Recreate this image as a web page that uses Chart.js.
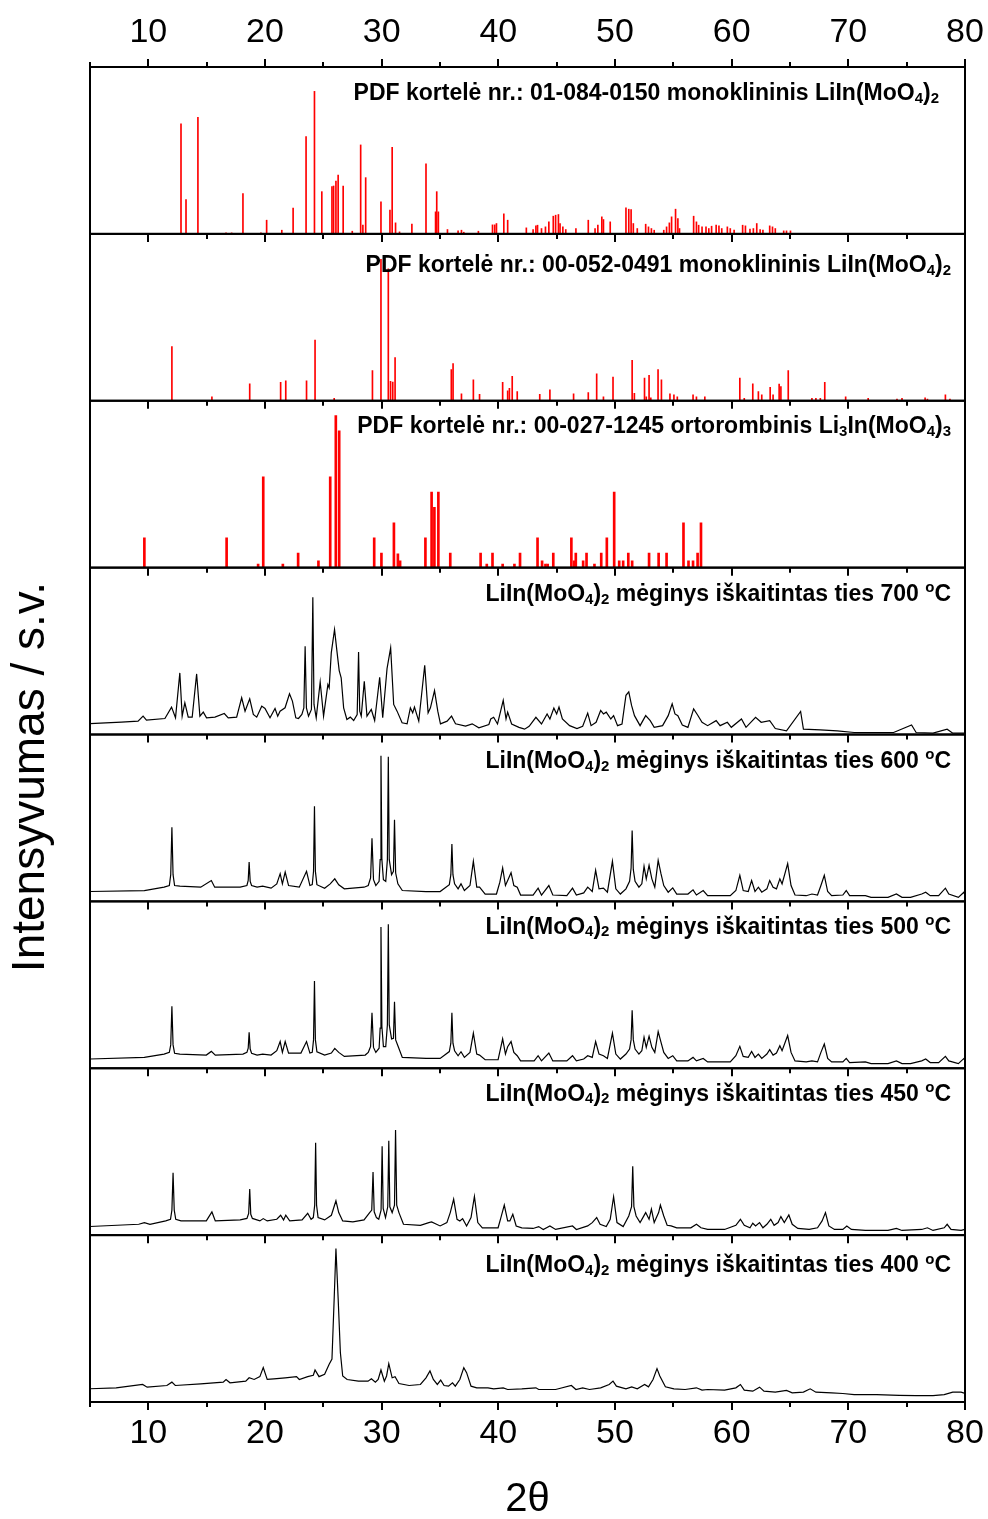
<!DOCTYPE html>
<html><head><meta charset="utf-8">
<script src="https://cdn.jsdelivr.net/npm/chart.js@4.4.1/dist/chart.umd.min.js"></script>
<style>html,body{margin:0;padding:0;background:#fff}#wrap{position:relative;width:988px;height:1519px}</style>
</head><body><div id="wrap"><canvas id="c" width="988" height="1519"></canvas></div>
<script>
// ---------- DATA ----------
const xMajorTicks = [10, 20, 30, 40, 50, 60, 70, 80];
const xMinorTicks = [5, 15, 25, 35, 45, 55, 65, 75];

// PDF 01-084-0150 (2θ, relative intensity %)
const pdf01_084_0150 = [[12.80,65.9],[13.23,20.6],[14.25,69.9],[16.66,0.6],[17.14,0.6],[18.11,24.2],[19.65,0.6],[20.14,8.2],[21.44,2.2],[22.41,15.4],[23.52,58.3],[24.24,85.4],[24.87,25.3],[25.74,28.3],[25.88,28.7],[26.08,31.7],[26.27,35.3],[26.70,28.7],[27.48,1.6],[28.20,53.3],[28.39,5.2],[28.63,33.7],[29.94,19.2],[30.71,14.2],[30.90,51.9],[31.19,6.6],[31.53,1.2],[32.59,5.8],[33.80,41.9],[34.62,13.2],[34.72,25.3],[34.86,13.2],[35.64,2.6],[36.55,1.8],[36.84,2.2],[37.04,1.0],[38.29,1.6],[39.50,5.4],[39.69,5.4],[39.84,6.2],[40.47,12.0],[40.80,8.2],[42.40,3.6],[42.98,2.6],[43.22,4.8],[43.36,5.2],[43.70,3.2],[44.04,4.2],[44.33,7.2],[44.71,10.6],[44.91,11.2],[45.15,11.6],[45.29,6.2],[45.53,4.2],[45.78,2.6],[46.65,3.2],[47.71,8.2],[48.29,3.2],[48.53,5.2],[48.87,10.2],[49.01,8.6],[49.59,7.2],[50.94,15.6],[51.18,14.8],[51.38,14.6],[51.57,6.2],[51.91,3.2],[52.63,5.8],[52.87,4.2],[53.12,3.2],[53.36,2.2],[54.18,2.2],[54.42,4.2],[54.66,6.6],[54.85,10.2],[55.19,14.8],[55.39,9.2],[55.53,3.2],[56.74,10.6],[56.98,7.2],[57.17,5.2],[57.46,4.2],[57.80,4.2],[58.04,3.2],[58.28,4.6],[58.67,5.2],[58.91,4.8],[59.15,3.2],[59.63,4.2],[59.88,3.2],[60.21,2.2],[60.94,5.2],[61.18,4.8],[61.57,2.8],[61.86,3.2],[62.15,6.2],[62.44,2.6],[62.68,2.2],[63.26,4.8],[63.50,4.2],[63.74,3.2],[64.46,1.8],[64.70,1.8],[65.04,1.8]];

// PDF 00-052-0491
const pdf00_052_0491 = [[12.02,32.5],[15.45,2.4],[18.69,10.2],[21.34,11.0],[21.78,12.0],[23.56,12.0],[24.29,36.4],[25.93,1.4],[29.21,18.1],[29.94,84.8],[30.57,79.1],[30.76,11.6],[30.95,11.2],[31.15,25.8],[35.97,18.7],[36.12,22.2],[36.84,4.1],[37.86,12.6],[38.39,3.9],[40.37,11.0],[40.80,5.9],[40.95,7.5],[41.19,14.6],[41.62,5.5],[43.55,3.9],[44.42,6.5],[46.45,4.1],[47.71,4.9],[48.43,16.1],[49.01,2.4],[49.83,14.2],[51.47,24.2],[51.66,4.5],[52.53,13.6],[52.68,2.4],[52.92,15.2],[53.07,1.8],[53.69,18.7],[53.98,12.6],[54.71,4.1],[55.05,3.5],[55.34,2.4],[56.69,3.5],[56.98,2.4],[57.70,2.4],[60.70,13.6],[61.08,1.4],[61.81,10.2],[62.29,5.5],[62.58,3.5],[63.30,8.1],[63.55,3.5],[64.07,10.0],[64.22,8.5],[64.85,18.1],[66.88,1.4],[67.22,1.4],[67.60,1.4],[67.98,11.0],[69.77,2.4],[71.70,1.4],[74.17,1.0],[74.60,1.4],[76.58,1.8],[76.78,1.0],[78.32,3.5],[78.71,1.0]];

// PDF 00-027-1245
const pdf00_027_1245 = [[9.66,17.9],[16.71,17.9],[19.41,2.1],[19.85,54.4],[21.53,2.1],[22.84,8.7],[24.58,4.1],[25.59,54.4],[26.07,91.1],[26.36,81.9],[29.36,17.9],[29.98,8.7],[31.05,26.8],[31.39,8.2],[31.58,4.1],[33.75,17.9],[34.28,45.2],[34.52,36.1],[34.86,45.2],[35.88,8.7],[38.48,8.7],[39.01,2.1],[39.50,8.7],[40.37,2.1],[41.38,2.1],[41.86,8.7],[43.36,17.9],[43.75,4.1],[44.04,2.1],[44.23,2.1],[44.71,8.7],[46.26,17.9],[46.50,4.1],[46.64,8.7],[47.27,4.1],[47.56,8.7],[48.24,2.1],[48.82,8.7],[49.30,17.9],[49.93,45.2],[50.36,4.1],[50.70,4.1],[51.14,8.7],[51.47,4.1],[52.92,8.7],[53.74,8.7],[54.42,8.7],[55.87,26.8],[56.30,4.1],[56.69,4.1],[57.08,8.7],[57.37,26.8]];

// Measured patterns (2θ, intensity, a.u.)
const sample700 = [[4.83,6.4],[7.69,7.4],[9.12,8.0],[9.55,11.0],[9.84,8.6],[11.42,9.6],[11.99,16.4],[12.33,10.0],[12.70,36.9],[12.90,11.0],[13.13,19.0],[13.42,10.4],[13.76,10.4],[14.14,36.3],[14.42,11.0],[14.71,13.4],[14.99,10.0],[15.71,10.4],[16.51,12.6],[16.85,10.0],[17.57,10.4],[18.00,22.0],[18.29,14.0],[18.69,21.4],[19.00,12.0],[19.29,10.4],[19.72,17.0],[20.00,15.6],[20.43,10.0],[20.86,15.6],[21.09,11.0],[21.29,14.0],[21.72,16.0],[22.10,24.4],[22.35,20.0],[22.64,10.0],[22.87,9.6],[23.16,12.0],[23.33,16.0],[23.44,52.9],[23.55,16.0],[23.73,11.0],[23.98,15.0],[24.10,82.2],[24.20,18.0],[24.39,10.0],[24.73,31.5],[25.02,11.0],[25.39,29.9],[25.50,28.0],[25.68,48.9],[25.96,62.9],[26.16,50.3],[26.36,38.3],[26.53,34.0],[26.74,16.0],[27.02,9.0],[27.31,10.4],[27.60,8.4],[27.90,12.0],[28.02,49.5],[28.12,14.0],[28.25,11.0],[28.51,31.9],[28.74,11.0],[29.11,15.0],[29.40,8.4],[29.83,34.3],[30.09,10.0],[30.46,39.5],[30.77,51.9],[31.03,18.0],[31.32,14.0],[31.75,7.0],[32.18,6.4],[32.46,16.0],[32.66,13.0],[32.81,16.4],[33.18,8.0],[33.69,41.5],[33.98,13.0],[34.18,16.0],[34.53,26.3],[34.81,14.0],[35.04,6.4],[35.61,8.0],[35.99,11.0],[36.33,6.4],[37.19,5.0],[37.76,6.4],[38.33,4.0],[39.19,6.0],[39.35,9.3],[39.60,10.3],[39.93,6.3],[40.42,20.4],[40.66,9.3],[40.80,13.4],[41.14,6.3],[41.77,4.3],[42.25,3.2],[42.64,4.9],[43.22,10.3],[43.70,6.3],[44.18,12.3],[44.42,9.3],[44.76,15.8],[45.00,12.3],[45.20,16.4],[45.49,9.3],[46.11,5.3],[46.74,3.6],[47.23,4.9],[47.66,12.8],[47.95,5.3],[48.38,7.3],[48.77,14.4],[49.01,12.3],[49.25,13.4],[49.64,9.3],[49.88,11.3],[50.22,5.3],[50.60,6.3],[50.94,23.5],[51.18,25.5],[51.42,17.4],[51.67,11.3],[52.15,5.3],[52.63,11.3],[53.02,8.3],[53.36,4.3],[54.08,5.3],[54.56,11.3],[54.90,18.4],[55.14,12.3],[55.39,11.3],[55.77,5.7],[56.25,4.3],[56.74,15.4],[57.08,11.7],[57.46,7.3],[57.94,5.3],[58.67,8.3],[59.01,5.3],[59.63,7.3],[59.97,4.3],[60.84,9.3],[61.23,4.3],[62.05,10.3],[62.53,7.3],[63.26,8.3],[63.74,3.6],[64.70,2.2],[65.91,13.8],[66.15,3.2],[67.60,2.8],[69.05,2.2],[70.50,1.2],[72.43,1.2],[73.88,1.2],[75.42,5.7],[75.81,1.2],[77.26,0.8],[78.47,3.2],[78.95,0.8],[80.00,0.8]];

const sample600 = [[4.83,5.9],[9.66,6.5],[11.35,8.5],[11.80,9.5],[11.92,16.0],[12.02,44.4],[12.12,16.0],[12.25,9.5],[12.70,9.1],[14.49,8.5],[15.40,12.5],[15.69,8.5],[17.87,8.5],[18.45,9.5],[18.56,12.5],[18.64,23.6],[18.73,12.0],[18.85,9.5],[19.32,8.5],[19.80,9.1],[20.52,7.9],[21.01,10.5],[21.30,16.6],[21.49,10.5],[21.73,17.6],[22.02,9.5],[22.94,8.5],[23.56,18.0],[23.85,9.5],[24.05,10.0],[24.16,18.0],[24.24,57.0],[24.32,18.0],[24.45,10.0],[25.11,7.9],[25.59,10.5],[25.98,13.5],[26.32,9.9],[26.80,7.5],[28.49,8.5],[28.85,9.5],[29.05,14.0],[29.17,37.8],[29.30,13.0],[29.50,9.5],[29.78,12.0],[29.87,25.0],[29.94,87.3],[30.02,25.0],[30.15,13.0],[30.35,12.0],[30.49,25.0],[30.57,86.7],[30.65,25.0],[30.85,16.0],[31.01,18.0],[31.10,48.9],[31.20,17.0],[31.39,10.5],[31.77,6.5],[33.80,5.9],[35.01,5.9],[35.80,10.0],[35.93,16.0],[36.02,34.3],[36.11,16.0],[36.25,10.5],[36.55,7.5],[36.80,10.5],[37.09,6.5],[37.57,9.5],[37.86,24.0],[38.15,8.5],[38.39,8.5],[38.87,4.4],[39.84,4.4],[40.13,11.5],[40.37,20.0],[40.61,9.5],[40.80,12.5],[41.09,17.2],[41.33,9.5],[41.62,8.5],[41.91,3.8],[42.98,3.8],[43.41,7.9],[43.70,3.8],[44.33,9.5],[44.67,3.8],[45.87,3.4],[46.36,7.9],[46.69,3.8],[47.32,5.1],[47.66,8.5],[48.05,5.9],[48.34,18.6],[48.63,7.5],[49.01,7.9],[49.35,5.5],[49.78,24.0],[50.07,7.5],[50.46,4.4],[50.94,7.5],[51.25,12.0],[51.38,20.0],[51.47,42.4],[51.57,19.0],[51.72,12.0],[52.05,8.5],[52.30,10.5],[52.49,21.0],[52.68,13.5],[52.92,21.6],[53.16,13.5],[53.41,8.5],[53.70,24.6],[53.94,16.6],[54.18,9.5],[54.56,5.5],[54.95,8.1],[55.29,4.4],[56.25,4.4],[56.69,6.9],[56.98,3.8],[57.56,6.5],[57.94,3.4],[59.88,3.4],[60.36,6.5],[60.70,15.6],[60.99,6.5],[61.42,5.9],[61.71,12.5],[62.00,5.9],[62.29,8.5],[62.58,5.5],[63.02,7.5],[63.26,12.5],[63.55,8.5],[63.84,7.5],[64.13,13.5],[64.32,10.5],[64.80,22.6],[65.09,9.5],[65.43,3.8],[66.39,3.4],[66.88,4.4],[67.36,3.8],[67.65,9.5],[67.94,15.6],[68.23,5.9],[68.57,3.4],[69.53,3.8],[69.82,6.5],[70.11,3.4],[71.46,3.4],[71.95,2.4],[73.40,2.4],[74.12,4.4],[74.60,2.4],[75.33,2.4],[76.29,4.4],[76.63,5.5],[77.02,3.4],[77.74,3.4],[78.32,7.9],[78.61,4.4],[79.43,2.4],[79.91,5.5],[80.00,3.4]];

const sample500 = [[4.83,5.5],[9.66,6.5],[11.35,8.5],[11.80,9.5],[11.92,14.0],[12.02,37.2],[12.12,14.0],[12.25,9.0],[12.70,8.5],[14.97,7.9],[15.40,10.1],[15.74,7.9],[18.11,8.5],[18.45,9.5],[18.56,12.0],[18.64,21.6],[18.73,11.5],[18.85,9.0],[19.32,7.9],[19.80,8.5],[20.52,7.9],[21.01,10.5],[21.30,16.0],[21.49,9.5],[21.73,16.0],[22.02,9.1],[23.08,9.1],[23.56,16.0],[23.85,9.1],[24.05,9.5],[24.16,17.0],[24.24,52.3],[24.32,17.0],[24.45,9.9],[25.11,7.9],[25.69,9.1],[25.98,11.9],[26.32,9.5],[26.80,7.1],[28.59,7.9],[28.85,9.5],[29.05,13.0],[29.17,33.3],[29.30,12.5],[29.50,9.5],[29.78,12.0],[29.87,24.0],[29.94,84.6],[30.02,25.0],[30.15,13.0],[30.35,13.0],[30.49,26.0],[30.57,86.3],[30.65,26.0],[30.85,17.6],[31.01,18.0],[31.10,39.8],[31.20,17.0],[31.39,13.5],[31.77,6.5],[33.80,5.9],[35.01,5.9],[35.80,10.0],[35.93,15.0],[36.02,33.3],[36.11,15.0],[36.25,10.5],[36.55,7.5],[36.80,9.9],[37.09,6.5],[37.57,9.5],[37.86,21.0],[38.15,8.5],[38.39,7.9],[38.87,5.1],[39.98,5.1],[40.37,17.6],[40.61,8.5],[40.80,12.9],[41.09,16.0],[41.33,9.5],[41.62,7.5],[41.91,4.4],[43.07,4.4],[43.41,7.5],[43.70,4.4],[44.33,9.1],[44.67,4.4],[45.87,4.4],[46.36,7.5],[46.69,4.4],[47.32,5.5],[47.66,7.5],[48.05,6.5],[48.34,16.0],[48.63,8.5],[49.01,7.5],[49.35,5.9],[49.78,21.0],[50.07,8.5],[50.46,5.5],[50.94,8.5],[51.25,11.5],[51.38,17.0],[51.47,34.7],[51.57,17.0],[51.72,11.5],[52.05,8.5],[52.30,10.5],[52.49,18.6],[52.68,12.5],[52.92,19.2],[53.16,12.5],[53.41,9.5],[53.70,22.0],[53.94,15.6],[54.18,9.5],[54.56,5.9],[54.95,7.5],[55.29,4.4],[56.25,4.4],[56.69,6.5],[56.98,4.4],[57.56,5.9],[57.94,3.8],[59.88,3.8],[60.36,7.5],[60.70,13.1],[60.99,7.1],[61.42,6.5],[61.71,10.1],[62.00,6.5],[62.29,8.5],[62.58,5.9],[63.02,8.5],[63.26,11.1],[63.55,7.9],[63.84,9.1],[64.13,13.5],[64.32,10.5],[64.80,19.6],[65.09,9.5],[65.43,4.4],[66.39,3.8],[66.88,4.4],[67.36,3.8],[67.65,9.5],[67.94,14.5],[68.23,5.9],[68.57,3.8],[69.53,3.8],[69.82,5.9],[70.11,3.4],[71.46,3.8],[71.95,2.8],[73.40,2.8],[74.12,4.4],[74.60,2.8],[75.33,2.8],[76.29,4.4],[76.63,5.5],[77.02,3.4],[77.74,3.4],[78.32,7.1],[78.61,4.4],[79.43,2.8],[79.91,5.9],[80.00,4.4]];

const sample450 = [[4.83,5.1],[9.18,6.5],[9.66,7.5],[10.14,6.5],[11.49,8.5],[11.90,9.5],[12.02,15.0],[12.12,37.4],[12.22,15.0],[12.35,9.5],[12.80,8.5],[14.97,8.5],[15.45,13.9],[15.74,8.5],[17.87,9.1],[18.45,10.0],[18.60,13.0],[18.69,27.7],[18.78,12.5],[18.92,10.0],[19.56,8.5],[19.85,9.9],[20.19,8.5],[21.01,9.5],[21.34,11.9],[21.59,9.1],[21.78,11.9],[22.12,8.5],[23.18,9.1],[23.66,13.1],[23.95,9.5],[24.14,10.5],[24.26,18.0],[24.34,55.4],[24.42,18.0],[24.55,10.5],[25.11,9.1],[25.69,11.9],[26.08,20.6],[26.32,13.5],[26.66,8.5],[27.53,7.9],[28.49,9.1],[28.97,13.5],[29.15,15.0],[29.26,37.8],[29.36,14.0],[29.55,10.5],[29.75,9.5],[29.95,15.0],[30.04,53.3],[30.13,16.0],[30.33,10.5],[30.52,17.0],[30.61,56.6],[30.70,17.0],[30.90,13.5],[31.10,18.0],[31.19,63.0],[31.29,18.0],[31.48,13.5],[31.87,6.5],[33.32,5.9],[34.04,7.5],[34.28,7.9],[35.01,5.5],[35.59,7.5],[35.88,13.5],[36.17,21.6],[36.46,9.5],[36.70,8.5],[36.94,9.9],[37.28,5.5],[37.66,10.5],[37.95,23.2],[38.24,7.5],[38.63,4.4],[39.98,4.4],[40.22,10.5],[40.51,18.0],[40.80,8.5],[40.99,8.5],[41.24,12.5],[41.53,5.5],[42.01,4.4],[42.98,4.0],[43.46,5.1],[43.85,3.4],[44.42,5.5],[44.91,3.4],[46.36,5.5],[46.69,3.4],[47.66,5.5],[48.05,7.5],[48.43,10.5],[48.72,6.5],[49.25,5.1],[49.59,9.5],[49.88,23.0],[50.17,7.5],[50.70,5.1],[51.18,11.5],[51.42,17.0],[51.52,41.2],[51.62,17.0],[51.81,11.5],[52.15,7.5],[52.39,10.5],[52.63,13.5],[52.92,9.5],[53.12,15.6],[53.36,7.5],[53.74,13.5],[53.89,18.0],[54.18,11.5],[54.47,5.9],[54.81,5.5],[55.29,4.4],[56.50,4.4],[56.98,6.5],[57.37,4.4],[57.94,3.4],[59.39,3.4],[60.36,5.9],[60.75,9.5],[61.08,5.9],[61.57,4.4],[61.81,7.1],[62.05,5.5],[62.39,7.5],[62.68,4.4],[63.02,6.5],[63.35,9.5],[63.64,5.9],[63.98,7.5],[64.22,11.1],[64.51,7.5],[64.90,12.1],[65.19,6.5],[65.67,4.0],[66.64,3.4],[67.36,4.4],[67.75,8.5],[68.04,13.5],[68.33,5.5],[68.81,3.4],[69.53,3.4],[69.87,5.5],[70.26,3.4],[71.46,2.8],[73.40,2.8],[74.12,4.0],[74.60,2.8],[76.29,3.4],[76.78,4.4],[77.26,2.8],[78.22,4.4],[78.47,6.5],[78.80,3.4],[79.67,2.8],[80.00,3.4]];

const sample400 = [[4.83,7.9],[7.24,8.5],[9.51,10.5],[9.90,8.9],[11.59,9.9],[12.02,11.9],[12.31,9.9],[14.49,10.9],[16.42,11.9],[16.66,13.5],[17.00,11.5],[18.35,12.5],[18.64,14.5],[19.07,13.5],[19.56,15.2],[19.85,20.6],[20.19,13.5],[20.76,13.9],[21.73,14.5],[22.70,15.2],[22.94,13.5],[23.66,15.2],[24.14,16.0],[24.29,19.2],[24.63,15.2],[25.11,16.6],[25.50,22.6],[25.74,25.7],[25.93,62.0],[26.08,91.9],[26.27,62.0],[26.46,29.7],[26.66,15.6],[27.04,13.5],[28.01,12.5],[28.83,12.5],[29.12,13.9],[29.46,11.9],[29.70,13.5],[29.94,19.2],[30.23,12.5],[30.42,15.6],[30.61,23.0],[30.90,14.5],[31.15,15.2],[31.48,11.1],[32.35,9.9],[33.32,10.5],[33.80,14.5],[34.14,18.6],[34.43,13.5],[34.77,10.5],[35.06,13.1],[35.35,9.9],[35.73,9.5],[36.07,11.5],[36.31,9.5],[36.70,13.5],[37.04,20.6],[37.28,17.6],[37.66,9.5],[38.15,8.5],[39.11,8.5],[39.60,7.9],[40.42,8.5],[40.80,7.5],[42.01,7.9],[43.22,8.5],[43.46,7.5],[44.91,7.5],[46.26,9.9],[46.65,7.5],[47.23,8.5],[47.81,7.5],[48.77,8.5],[49.50,10.5],[49.83,12.5],[50.12,9.5],[50.94,7.9],[51.43,9.1],[51.91,7.9],[52.54,10.5],[52.87,9.1],[53.26,13.5],[53.60,20.0],[53.84,15.6],[54.32,9.1],[55.05,7.9],[56.01,7.5],[56.98,8.5],[57.46,7.1],[57.94,7.5],[59.39,7.1],[60.36,8.5],[60.75,10.5],[61.08,7.1],[61.81,6.5],[62.39,8.9],[62.77,6.5],[63.74,5.9],[64.70,6.9],[65.19,5.5],[66.15,5.9],[66.73,7.9],[67.22,5.9],[68.57,5.5],[69.53,5.1],[70.50,4.4],[72.43,4.4],[74.36,4.0],[75.81,3.8],[77.26,3.8],[78.22,4.4],[78.95,5.9],[79.67,5.9],[80.00,5.1]];

const panelTitles = [
  'PDF kortelė nr.: 01-084-0150 monoklininis LiIn(MoO_4)_2',
  'PDF kortelė nr.: 00-052-0491 monoklininis LiIn(MoO_4)_2',
  'PDF kortelė nr.: 00-027-1245 ortorombinis Li_3In(MoO_4)_3',
  'LiIn(MoO_4)_2 mėginys iškaitintas ties 700 ^oC',
  'LiIn(MoO_4)_2 mėginys iškaitintas ties 600 ^oC',
  'LiIn(MoO_4)_2 mėginys iškaitintas ties 500 ^oC',
  'LiIn(MoO_4)_2 mėginys iškaitintas ties 450 ^oC',
  'LiIn(MoO_4)_2 mėginys iškaitintas ties 400 ^oC'
];
const xAxisTitle = '2θ';
const yAxisTitle = 'Intensyvumas / s.v.';

// ---------- CONFIG ----------
const FONT = "'Liberation Sans', Arial, Helvetica, sans-serif";
const panels = [
  {id:'p1', kind:'stick', data:pdf01_084_0150, thick:1, titleDy:25, titleRight:26},
  {id:'p2', kind:'stick', data:pdf00_052_0491, thick:1, titleDy:30, titleRight:14},
  {id:'p3', kind:'stick', data:pdf00_027_1245, thick:2, titleDy:24, titleRight:14},
  {id:'p4', kind:'line', data:sample700, titleDy:25, titleRight:14},
  {id:'p5', kind:'line', data:sample600, titleDy:25, titleRight:14},
  {id:'p6', kind:'line', data:sample500, titleDy:24, titleRight:14},
  {id:'p7', kind:'line', data:sample450, titleDy:24, titleRight:14},
  {id:'p8', kind:'line', data:sample400, titleDy:29, titleRight:14}
];

const datasets = panels.map((p, i) => {
  const pts = p.data.map(d => ({x: d[0], y: d[1]}));
  if (p.kind === 'stick') {
    return {type:'bar', label:panelTitles[i], data:pts, xAxisID:'x', yAxisID:p.id,
      backgroundColor:'#ff0000', borderWidth:0, barThickness:p.thick, grouped:false};
  }
  return {type:'line', label:panelTitles[i], data:pts, xAxisID:'x', yAxisID:p.id,
    borderColor:'#000', borderWidth:1.2, pointRadius:0, tension:0, fill:false};
});

const noSidePad = s => { s.paddingLeft = 0; s.paddingRight = 0; };
const scales = {
  x: {type:'linear', position:'bottom', min:5, max:80, offset:false,
      grid:{display:false, drawTicks:false}, border:{display:false},
      afterBuildTicks: s => { s.ticks = xMajorTicks.map(v => ({value:v})); },
      afterFit: s => { s.height = 117; noSidePad(s); },
      ticks:{color:'#000', font:{size:34, family:FONT}, padding:11, maxRotation:0, autoSkip:false}},
  xTop: {type:'linear', position:'top', min:5, max:80, offset:false,
      grid:{display:false, drawTicks:false}, border:{display:false},
      afterBuildTicks: s => { s.ticks = xMajorTicks.map(v => ({value:v})); },
      afterFit: s => { s.height = 67; noSidePad(s); },
      ticks:{color:'#000', font:{size:34, family:FONT}, padding:14, maxRotation:0, autoSkip:false}}
};
// stacked left axes: the last one defined is placed on top
panels.slice().reverse().forEach(p => {
  scales[p.id] = {type:'linear', position:'left', stack:'panels', stackWeight:1, min:0, max:100,
    grid:{display:false, drawTicks:false}, border:{display:false}, ticks:{display:false},
    afterFit: s => { s.width = 0; }};
});

function parseRich(str) {
  const segs = [];
  let buf = '';
  for (let i = 0; i < str.length; i++) {
    const c = str[i];
    if ((c === '_' || c === '^') && i + 1 < str.length) {
      if (buf) { segs.push({t:buf, k:'n'}); buf = ''; }
      segs.push({t:str[i+1], k: c === '_' ? 'sub' : 'sup'});
      i++;
    } else buf += c;
  }
  if (buf) segs.push({t:buf, k:'n'});
  return segs;
}

function drawRich(ctx, str, rightX, cy, size) {
  const segs = parseRich(str);
  const fN = `bold ${size}px ${FONT}`;
  const fS = `bold ${Math.round(size * 0.64)}px ${FONT}`;
  let w = 0;
  segs.forEach(s => { ctx.font = s.k === 'n' ? fN : fS; s.w = ctx.measureText(s.t).width; w += s.w; });
  let x = rightX - w;
  const base = cy + size * 0.36;
  ctx.textBaseline = 'alphabetic';
  ctx.textAlign = 'left';
  segs.forEach(s => {
    ctx.font = s.k === 'n' ? fN : fS;
    const dy = s.k === 'sub' ? size * 0.12 : (s.k === 'sup' ? -size * 0.38 : 0);
    ctx.fillText(s.t, x, base + dy);
    x += s.w;
  });
}

const framePlugin = {
  id: 'frames',
  afterDatasetsDraw(chart) {
    const ctx = chart.ctx, a = chart.chartArea, xs = chart.scales.x;
    ctx.save();
    ctx.fillStyle = '#000';
    panels.forEach((p, i) => {
      const s = chart.scales[p.id];
      drawRich(ctx, panelTitles[i], a.right - p.titleRight, s.top + p.titleDy, 23);
    });
    ctx.strokeStyle = '#000';
    ctx.lineWidth = 2;
    panels.forEach(p => {
      const s = chart.scales[p.id];
      ctx.strokeRect(a.left, s.top, a.right - a.left, s.bottom - s.top);
    });
    const tick = (v, y, len) => {
      const px = Math.round(xs.getPixelForValue(v));
      ctx.beginPath(); ctx.moveTo(px, y); ctx.lineTo(px, y + len); ctx.stroke();
    };
    xMajorTicks.forEach(v => { tick(v, a.top, -8); tick(v, a.bottom, 8); });
    xMinorTicks.forEach(v => { tick(v, a.top, -5); tick(v, a.bottom, 5); });
    panels.forEach((p, i) => {
      if (i === 0) return;
      const y = chart.scales[p.id].top;
      xMajorTicks.forEach(v => tick(v, y, 8));
      xMinorTicks.forEach(v => tick(v, y, 5));
    });
    ctx.font = `40px ${FONT}`;
    ctx.textAlign = 'center';
    ctx.textBaseline = 'middle';
    ctx.fillText(xAxisTitle, (a.left + a.right) / 2, 1500);
    ctx.save();
    ctx.translate(31, 777);
    ctx.rotate(-Math.PI / 2);
    ctx.font = `46px ${FONT}`;
    ctx.fillText(yAxisTitle, 0, 0);
    ctx.restore();
    ctx.restore();
  }
};

new Chart(document.getElementById('c'), {
  type: 'line',
  data: {datasets},
  options: {
    responsive: false,
    animation: false,
    devicePixelRatio: 1,
    layout: {padding: {left: 90, right: 23, top: 0, bottom: 0}},
    plugins: {legend: {display: false}, tooltip: {enabled: false}, title: {display: false}},
    scales
  },
  plugins: [framePlugin]
});
</script>
</body></html>
